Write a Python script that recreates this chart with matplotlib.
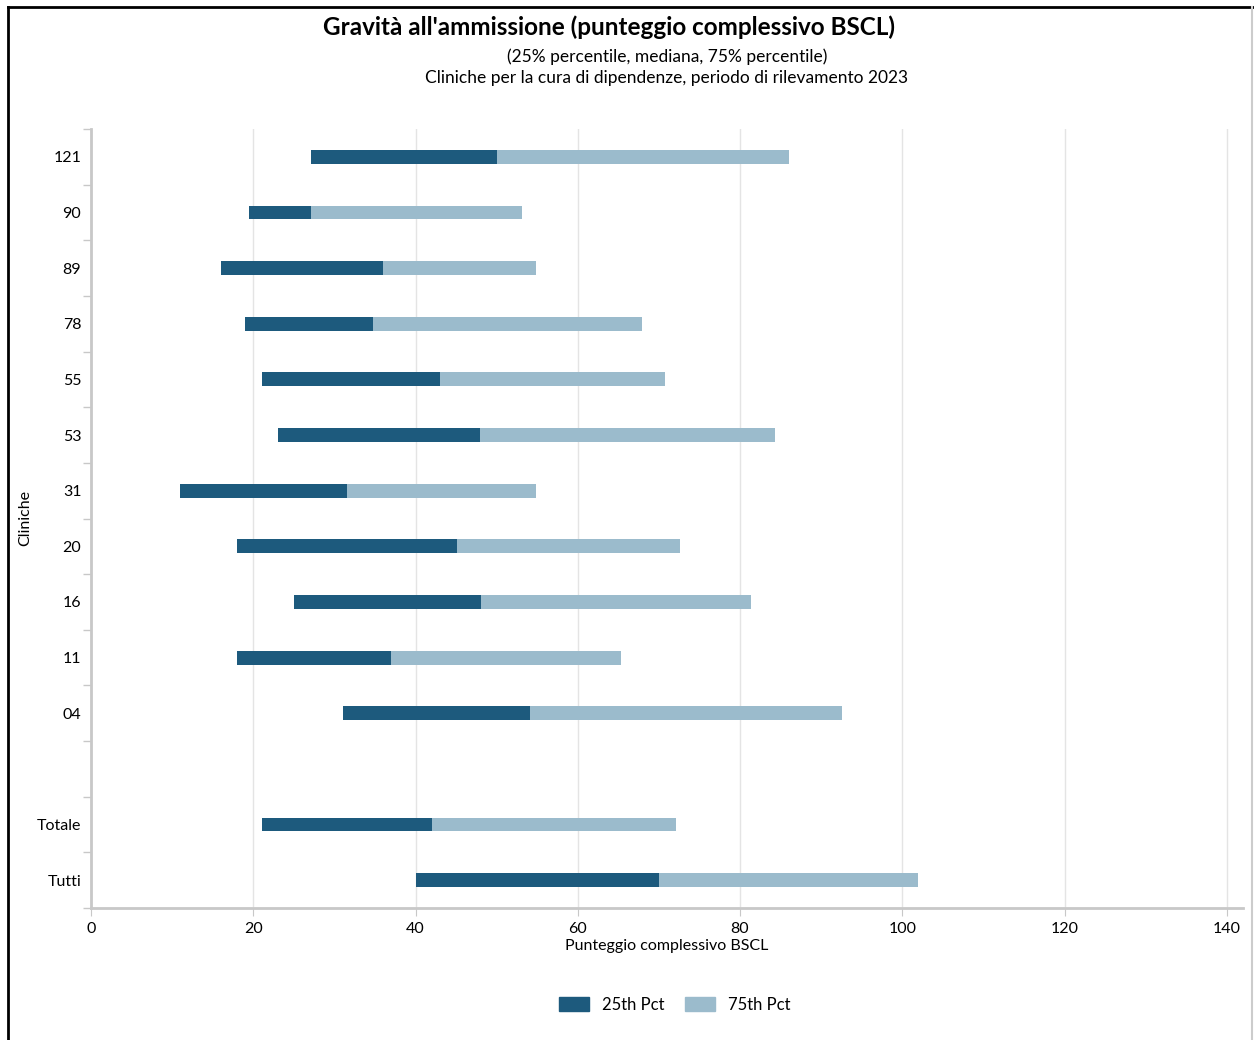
import matplotlib.pyplot as plt
from matplotlib.lines import Line2D
from matplotlib.patches import Patch

plt.rcParams['font.family'] = ['Lato', 'DejaVu Sans']

# data, top to bottom ('' is the empty gap row)
cliniche = ['121', '90', '89', '78', '55', '53', '31', '20', '16', '11', '04', '', 'Totale', 'Tutti']
p25 = [27.1, 19.5, 16.0, 19.0, 21.1, 23.0, 11.0, 18.0, 25.0, 18.0, 31.1, None, 21.1, 40.1]
mediana = [50.0, 27.1, 36.0, 34.7, 43.0, 47.9, 31.5, 45.1, 48.1, 37.0, 54.1, None, 42.0, 70.0]
p75 = [86.0, 53.1, 54.8, 67.9, 70.7, 84.3, 54.8, 72.6, 81.3, 65.3, 92.6, None, 72.1, 102.0]

dark = '#1d5a7d'
light = '#9bbbcc'

fig = plt.figure(figsize=(12.54, 10.4), dpi=100)
ax = fig.add_axes([91 / 1254, 1 - 908 / 1040, (1243 - 91) / 1254, (908 - 129) / 1040])

n = len(cliniche)
for i in range(n):
    if p25[i] is None:
        continue
    y = n - 1 - i
    ax.barh(y, mediana[i] - p25[i], left=p25[i], height=0.25, color=dark, zorder=3)
    ax.barh(y, p75[i] - mediana[i], left=mediana[i], height=0.25, color=light, zorder=3)

ax.set_xlim(0, 142)
ax.set_ylim(-0.5, n - 0.5)
ax.set_xticks(range(0, 141, 20))
ax.set_yticks([n - 1 - i for i in range(n)])
ax.set_yticklabels(cliniche)
ax.set_yticks([k - 0.5 for k in range(n + 1)], minor=True)
ax.tick_params(axis='y', which='major', length=0, pad=7, labelsize=11.5)
ax.tick_params(axis='y', which='minor', length=6, color='#c8c8c8', width=1)
ax.tick_params(axis='x', length=6, color='#c8c8c8', labelsize=11.5, pad=4)
ax.grid(axis='x', color='#e4e4e4', linewidth=1, zorder=0)

for s in ['top', 'right']:
    ax.spines[s].set_visible(False)
for s in ['left', 'bottom']:
    ax.spines[s].set_color('#c8c8c8')
    ax.spines[s].set_linewidth(2)

ax.set_xlabel('Punteggio complessivo BSCL', fontsize=11.5, labelpad=2)
fig.text(25 / 1254, 1 - 518 / 1040, 'Cliniche', rotation=90, ha='center', va='center', fontsize=11.5)

fig.text(609 / 1254, 1 - 27 / 1040, "Gravità all'ammissione (punteggio complessivo BSCL)",
         ha='center', va='center', fontsize=17.5, fontweight='bold')
fig.text(667 / 1254, 1 - 57 / 1040, '(25% percentile, mediana, 75% percentile)',
         ha='center', va='center', fontsize=12.5)
fig.text(667 / 1254, 1 - 78 / 1040, 'Cliniche per la cura di dipendenze, periodo di rilevamento 2023',
         ha='center', va='center', fontsize=12.5)

handles = [Patch(color=dark, label='25th Pct'), Patch(color=light, label='75th Pct')]
fig.legend(handles=handles, loc='center', bbox_to_anchor=(675 / 1254, 1 - 1005 / 1040), ncol=2,
           frameon=False, fontsize=12, handlelength=1.8, handleheight=0.9, columnspacing=1.2)

# frame around the picture
fig.add_artist(Line2D([8 / 1254, 8 / 1254], [0, 1 - 7 / 1040], color='black', linewidth=2, transform=fig.transFigure))
fig.add_artist(Line2D([8 / 1254, 1], [1 - 7 / 1040, 1 - 7 / 1040], color='black', linewidth=2, transform=fig.transFigure))
fig.add_artist(Line2D([1252 / 1254, 1252 / 1254], [0, 1 - 7 / 1040], color='#cccccc', linewidth=1.5, transform=fig.transFigure))

fig.savefig('out.png', dpi=100)
